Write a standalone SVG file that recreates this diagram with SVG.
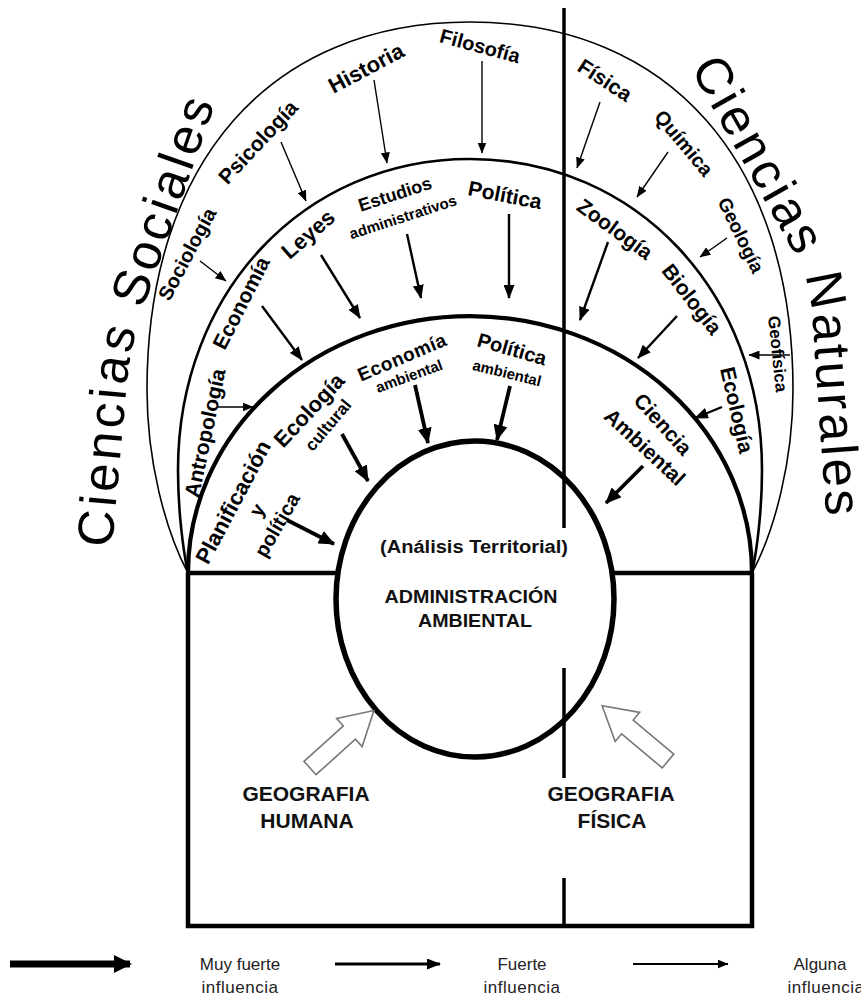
<svg xmlns="http://www.w3.org/2000/svg" width="861" height="1002" viewBox="0 0 861 1002">
<defs>
<style>
.t{font-family:"Liberation Sans",Arial,sans-serif;font-weight:bold;fill:#000;text-anchor:middle}
.title{font-family:"Liberation Sans",Arial,sans-serif;font-size:51px;fill:#000}
.arc{fill:none;stroke:#000}
.a1{stroke:#000;stroke-width:1.4;fill:none;marker-end:url(#h1)}
.a2{stroke:#000;stroke-width:2.4;fill:none;marker-end:url(#h2)}
.a3{stroke:#000;stroke-width:3.8;fill:none;marker-end:url(#h3)}
.a4{stroke:#000;stroke-width:7;fill:none;marker-end:url(#h4)}
.hollow{fill:#fff;stroke:#777;stroke-width:1.6}
.leg{font-family:"Liberation Sans",Arial,sans-serif;font-size:17px;text-anchor:middle;fill:#222}
.cen{font-family:"Liberation Sans",Arial,sans-serif;font-weight:bold;text-anchor:middle;fill:#111}
</style>
<marker id="h1" markerUnits="userSpaceOnUse" markerWidth="11" markerHeight="9" refX="10.5" refY="4.5" orient="auto"><path d="M0,0 L11,4.5 L0,9 z"/></marker>
<marker id="h2" markerUnits="userSpaceOnUse" markerWidth="14" markerHeight="11" refX="13" refY="5.5" orient="auto"><path d="M0,0 L14,5.5 L0,11 z"/></marker>
<marker id="h3" markerUnits="userSpaceOnUse" markerWidth="16" markerHeight="14" refX="15" refY="7" orient="auto"><path d="M0,0 L16,7 L0,14 z"/></marker>
<marker id="h4" markerUnits="userSpaceOnUse" markerWidth="18" markerHeight="18" refX="16" refY="9" orient="auto"><path d="M0,0 L18,9 L0,18 z"/></marker>
<path id="tl" d="M112,548 L126,392 Q130,345 144,306 L234,50"/>
<path id="tr" d="M690,68 L797,258 Q809,281 812,312 L830,570"/>
</defs>
<rect x="0" y="0" width="861" height="1002" fill="#fff"/>

<g id="frame">
<path class="arc" stroke-width="1.6" d="M188,573 C165,530 147,460 147,390 C147,162 270,22 470,22 C670,22 793,162 793,390 C793,460 775,530 752,573"/>
<path class="arc" stroke-width="2.6" d="M188,573 C183,550 178,510 178,470 C178,292.7 303.6,159 470,159 C636.4,159 762,292.7 762,470 C762,510 757,550 752,573"/>
<path class="arc" stroke-width="4.2" d="M188,573 A282,257 0 0,1 752,573"/>
<path class="arc" stroke-width="4.5" d="M188,573 L188,926 L752,926 L752,573 M188,573 L337,573 M613,573 L752,573"/>
<ellipse class="arc" stroke-width="5.5" cx="475" cy="599" rx="139" ry="158"/>
<path class="arc" stroke-width="3.5" d="M564,8 L564,528 M564,668 L564,778 M564,878 L564,926"/>
</g>

<g id="connectors">
<line class="a1" x1="482" y1="61" x2="482" y2="153"/>
<line class="a1" x1="374" y1="80" x2="387" y2="163"/>
<line class="a1" x1="281" y1="142" x2="306" y2="201"/>
<line class="a1" x1="200" y1="261" x2="226" y2="281"/>
<line class="a1" x1="218" y1="407" x2="253" y2="407"/>
<line class="a1" x1="600" y1="102" x2="577" y2="168"/>
<line class="a1" x1="668" y1="152" x2="637" y2="197"/>
<line class="a1" x1="727" y1="238" x2="700" y2="257"/>
<line class="a1" x1="790" y1="355" x2="749" y2="355"/>
<line class="a2" x1="262" y1="306" x2="302" y2="360"/>
<line class="a2" x1="321" y1="255" x2="360" y2="318"/>
<line class="a2" x1="407" y1="234" x2="421" y2="298"/>
<line class="a2" x1="509" y1="214" x2="509" y2="298"/>
<line class="a2" x1="608" y1="242" x2="580" y2="320"/>
<line class="a2" x1="677" y1="316" x2="638" y2="358"/>
<line class="a2" x1="722" y1="407" x2="695" y2="418"/>
<line class="a3" x1="287" y1="520" x2="334" y2="544"/>
<line class="a3" x1="342" y1="434" x2="368" y2="481"/>
<line class="a3" x1="415" y1="385" x2="428" y2="443"/>
<line class="a3" x1="510" y1="386" x2="497" y2="440"/>
<line class="a3" x1="643" y1="466" x2="606" y2="503"/>
<polygon class="hollow" transform="translate(310,768) rotate(-42)" points="0,-9 53,-9 53,-19 86,0 53,19 53,9 0,9"/>
<polygon class="hollow" transform="translate(668,761) rotate(-140)" points="0,-9 53,-9 53,-19 86,0 53,19 53,9 0,9"/>
</g>

<g id="sociales-title"><text class="title" letter-spacing="3.5"><textPath href="#tl">Ciencias Sociales</textPath></text></g>
<g id="naturales-title"><text class="title" letter-spacing="3"><textPath href="#tr">Ciencias Naturales</textPath></text></g>

<g id="filosofia"><text class="t" font-size="20" dy="0.35em" transform="translate(480,46) rotate(15)">Filosofía</text></g>
<g id="historia"><text class="t" font-size="22" dy="0.35em" transform="translate(366,68) rotate(-28)">Historia</text></g>
<g id="psicologia"><text class="t" font-size="21" dy="0.35em" transform="translate(258,142) rotate(-47)">Psicología</text></g>
<g id="sociologia"><text class="t" font-size="20" dy="0.35em" transform="translate(187,254) rotate(-62)">Sociología</text></g>
<g id="antropologia"><text class="t" font-size="21" dy="0.35em" transform="translate(205,433) rotate(-78)">Antropología</text></g>
<g id="fisica"><text class="t" font-size="21" dy="0.35em" transform="translate(605,80) rotate(33)">Física</text></g>
<g id="quimica"><text class="t" font-size="20" dy="0.35em" transform="translate(684,143) rotate(50)">Química</text></g>
<g id="geologia"><text class="t" font-size="19" dy="0.35em" transform="translate(741,235) rotate(64)">Geología</text></g>
<g id="geofisica"><text class="t" font-size="17" dy="0.35em" transform="translate(778,354) rotate(84)">Geofísica</text></g>

<g id="economia"><text class="t" font-size="21" dy="0.35em" transform="translate(241,303) rotate(-63)">Economía</text></g>
<g id="leyes"><text class="t" font-size="22" dy="0.35em" transform="translate(308,234) rotate(-41)">Leyes</text></g>
<g id="estudios"><text class="t" font-size="18" dy="0.35em" transform="translate(395,194) rotate(-18)">Estudios</text>
<text class="t" font-size="15" dy="0.35em" textLength="112" lengthAdjust="spacingAndGlyphs" transform="translate(403,217) rotate(-18)">administrativos</text></g>
<g id="politica"><text class="t" font-size="21" dy="0.35em" transform="translate(505,195) rotate(11)">Política</text></g>
<g id="zoologia"><text class="t" font-size="21" dy="0.35em" transform="translate(615,229) rotate(36)">Zoología</text></g>
<g id="biologia"><text class="t" font-size="21" dy="0.35em" transform="translate(692,299) rotate(52)">Biología</text></g>
<g id="ecologia"><text class="t" font-size="21" dy="0.35em" transform="translate(737,410) rotate(77)">Ecología</text></g>

<g id="planificacion"><text class="t" font-size="22" dy="0.35em" transform="translate(233,502) rotate(-62)">Planificación</text>
<text class="t" font-size="20" dy="0.35em" transform="translate(257,510) rotate(-60)">y</text>
<text class="t" font-size="20" dy="0.35em" transform="translate(277,525) rotate(-60)">política</text></g>
<g id="ecologia-cultural"><text class="t" font-size="22" dy="0.35em" transform="translate(309,410) rotate(-47)">Ecología</text>
<text class="t" font-size="17" dy="0.35em" transform="translate(328,425) rotate(-50)">cultural</text></g>
<g id="economia-ambiental"><text class="t" font-size="19" letter-spacing="0.5" dy="0.35em" transform="translate(402,357) rotate(-23)">Economía</text>
<text class="t" font-size="15" dy="0.35em" textLength="70" lengthAdjust="spacingAndGlyphs" transform="translate(409,376) rotate(-20)">ambiental</text></g>
<g id="politica-ambiental"><text class="t" font-size="20" dy="0.35em" transform="translate(512,349) rotate(16)">Política</text>
<text class="t" font-size="15" dy="0.35em" textLength="70" lengthAdjust="spacingAndGlyphs" transform="translate(507,373) rotate(14)">ambiental</text></g>
<g id="ciencia-ambiental"><text class="t" font-size="21" dy="0.35em" transform="translate(663,424) rotate(48)">Ciencia</text>
<text class="t" font-size="21" dy="0.35em" transform="translate(645,447) rotate(43)">Ambiental</text></g>

<g id="administracion">
<text class="cen" font-size="18" textLength="188" lengthAdjust="spacingAndGlyphs" x="474" y="553">(Análisis Territorial)</text>
<text class="cen" font-size="19" textLength="173" lengthAdjust="spacingAndGlyphs" x="471" y="603">ADMINISTRACIÓN</text>
<text class="cen" font-size="19" textLength="114" lengthAdjust="spacingAndGlyphs" x="475" y="627">AMBIENTAL</text>
</g>
<g id="geografia-humana">
<text class="cen" font-size="21" x="306" y="801">GEOGRAFIA</text>
<text class="cen" font-size="21" x="307" y="828">HUMANA</text>
</g>
<g id="geografia-fisica">
<text class="cen" font-size="21" x="611" y="801">GEOGRAFIA</text>
<text class="cen" font-size="21" x="612" y="828">FÍSICA</text>
</g>

<g id="legend">
<line class="a4" x1="10" y1="964" x2="130" y2="964"/>
<line class="a2" x1="335" y1="964" x2="440" y2="964" style="stroke-width:3.2"/>
<line class="a1" x1="633" y1="964" x2="728" y2="964" style="stroke-width:1.8"/>
<text class="leg" x="240" y="970">Muy fuerte</text>
<text class="leg" x="240" y="993" letter-spacing="0.5">influencia</text>
<text class="leg" x="522" y="970">Fuerte</text>
<text class="leg" x="522" y="993" letter-spacing="0.5">influencia</text>
<text class="leg" x="820" y="970">Alguna</text>
<text class="leg" x="826" y="993" letter-spacing="0.5">influencia</text>
</g>
</svg>
